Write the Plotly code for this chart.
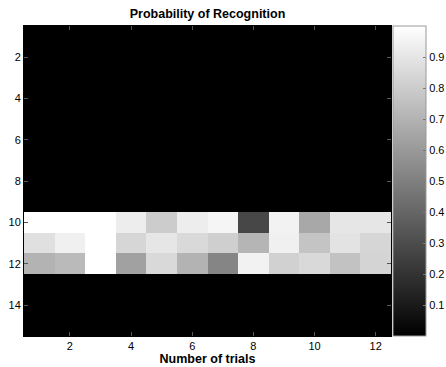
import plotly.graph_objects as go

trials = list(range(1, 13))
rows = list(range(1, 16))

# gray levels (0-1) for rows 10, 11, 12; all other rows are 0
row10 = [1.00, 1.00, 1.00, 0.93, 0.80, 0.93, 0.96, 0.28, 0.95, 0.66, 0.90, 0.90]
row11 = [0.88, 0.94, 1.00, 0.84, 0.90, 0.85, 0.81, 0.71, 0.94, 0.77, 0.89, 0.84]
row12 = [0.70, 0.73, 1.00, 0.63, 0.85, 0.70, 0.52, 0.95, 0.82, 0.85, 0.76, 0.83]
zero_row = [0.0] * 12

z = [zero_row] * 9 + [row10, row11, row12] + [zero_row] * 3

cb_ticks = [0.1, 0.2, 0.3, 0.4, 0.5, 0.6, 0.7, 0.8, 0.9]
x_ticks = [2, 4, 6, 8, 10, 12]
y_ticks = [2, 4, 6, 8, 10, 12, 14]

FONT = "Liberation Sans, Arial, sans-serif"

fig = go.Figure(go.Heatmap(
    x=trials, y=rows, z=z,
    zmin=0, zmax=1,
    colorscale=[[0, "black"], [1, "white"]],
    colorbar=dict(
        x=1.005, xanchor="left", xref="paper",
        y=0.5, yanchor="middle", len=1.0, lenmode="fraction",
        thickness=33, thicknessmode="pixels",
        outlinecolor="#999999", outlinewidth=1,
        tickvals=cb_ticks, ticktext=[str(t) for t in cb_ticks],
        ticks="inside", ticklen=3, tickcolor="#777777",
        tickfont=dict(family=FONT, size=11, color="black"),
        ypad=0, xpad=0,
    ),
))

fig.update_layout(
    width=446, height=367,
    margin=dict(l=24, r=55, t=26, b=31, autoexpand=False),
    paper_bgcolor="white", plot_bgcolor="white",
    title=dict(text="<b>Probability of Recognition</b>", x=(24 + 391) / 2 / 446, xanchor="center",
               y=1 - 14 / 367, yanchor="middle",
               font=dict(family=FONT, size=12.5, color="black")),
    font=dict(family=FONT, size=11, color="black"),
)
fig.update_xaxes(
    range=[0.5, 12.5], tickvals=x_ticks, ticks="inside", ticklen=4, tickcolor="#555555",
    showline=True, linecolor="black", linewidth=1, mirror="ticks",
    showgrid=False, zeroline=False,
    title=dict(text="<b>Number of trials</b>", font=dict(family=FONT, size=12.5), standoff=1),
    tickfont=dict(family=FONT, size=11),
)
fig.update_yaxes(
    range=[15.5, 0.5], tickvals=y_ticks, ticks="inside", ticklen=4, tickcolor="#555555",
    showline=True, linecolor="black", linewidth=1, mirror="ticks",
    showgrid=False, zeroline=False,
    tickfont=dict(family=FONT, size=11),
)

fig.write_html("out.html")
